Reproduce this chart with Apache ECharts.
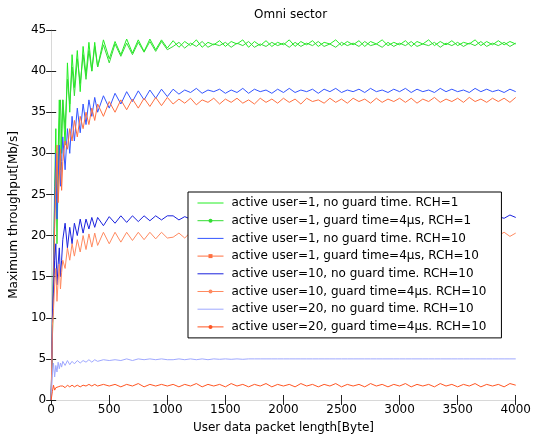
<!DOCTYPE html>
<html>
<head>
<meta charset="utf-8">
<script src="https://cdn.jsdelivr.net/npm/echarts@6/dist/echarts.min.js"></script>
<style>html,body{margin:0;padding:0;background:#fff}#c{width:534px;height:441px}</style>
</head>
<body>
<div id="c"></div>
<script>
const titleText = "Omni sector";
const xName = "User data packet length[Byte]";
const yName = "Maximum throughput[Mb/s]";
const seriesNames = [
  "active user=1, no guard time. RCH=1",
  "active user=1, guard time=4\u03bcs, RCH=1",
  "active user=1, no guard time. RCH=10",
  "active user=1, guard time=4\u03bcs, RCH=10",
  "active user=10, no guard time. RCH=10",
  "active user=10, guard time=4\u03bcs. RCH=10",
  "active user=20, no guard time. RCH=10",
  "active user=20, guard time=4\u03bcs. RCH=10"
];
const xs = [0,10,20,30,40,50,60,70,80,90,100,120,140,160,180,200,225,250,275,300,325,350,375,400,450,500,550,600,650,700,750,800,850,900,950,1000,
  1050,1100,1150,1200,1250,1300,1350,1400,1450,1500,1550,1600,1650,1700,1750,1800,1850,1900,1950,2000,
  2050,2100,2150,2200,2250,2300,2350,2400,2450,2500,2550,2600,2650,2700,2750,2800,2850,2900,2950,3000,
  3050,3100,3150,3200,3250,3300,3350,3400,3450,3500,3550,3600,3650,3700,3750,3800,3850,3900,3950,4000];

const green1 = [0,9,17,26,33,22,30,36.5,28,33,36.5,31,41,35,42,38,42.5,37.5,43,39.5,43.5,40,43.5,40.5,43.8,41.5,43.6,42,43.9,42.2,43.8,42.4,43.9,42.6,43.8,42.8,
  43.7,42.9,43.6,43.1,43.8,42.9,43.5,43.2,43.7,43.0, 43.6,43.3,43.8,42.9,43.6,43.1,43.7,43.0,43.5,43.2,
  43.8,43.0,43.6,43.2,43.7,43.0,43.5,43.3,43.8,43.1, 43.6,43.2,43.7,43.0,43.6,43.3,43.8,43.1,43.5,43.2,
  43.7,43.0,43.6,43.3,43.8,43.1,43.6,43.2,43.7,43.1, 43.5,43.3,43.8,43.1,43.6,43.2,43.7,43.2,43.6,43.3];
const green2 = [0,7,14,22,29,19,27,34,36.5,30,36.5,33,39,36,40.5,37,41.5,38.5,42,39,42.5,40,43,40.5,43.2,41,43.3,41.8,43.4,42,43.5,42.3,43.6,42.4,43.6,42.6,
  43.0,43.5,42.8,43.4,43.0,43.6,42.9,43.3,43.1,43.5, 42.9,43.4,43.1,43.6,42.9,43.3,43.0,43.5,43.1,43.4,
  42.9,43.5,43.0,43.4,43.1,43.6,43.0,43.3,42.9,43.5, 43.1,43.4,43.0,43.6,43.1,43.3,42.9,43.5,43.0,43.4,
  43.1,43.6,43.0,43.3,43.1,43.5,42.9,43.4,43.1,43.5, 43.0,43.4,43.1,43.6,43.0,43.4,43.1,43.5,43.0,43.4];
const blueA = [0,8,16,24,30,22,27,31,26,29,32,28,33,30,34.5,31.5,35.5,32.5,36,33.5,36.5,34.5,36.8,35,37,35.5,37.3,36,37.5,36.3,37.6,36.5,37.7,36.7,37.8,36.9,
  37.8,37.2,37.7,37.4,37.9,37.3,37.7,37.5,37.8,37.3, 37.7,37.4,37.9,37.3,37.8,37.5,37.7,37.3,37.8,37.4,
  37.9,37.4,37.7,37.5,37.8,37.3,37.8,37.5,37.9,37.4, 37.7,37.5,37.8,37.4,37.9,37.5,37.7,37.4,37.8,37.5,
  37.9,37.4,37.8,37.5,37.7,37.4,37.9,37.5,37.8,37.5, 37.7,37.4,37.9,37.5,37.8,37.5,37.7,37.4,37.8,37.5];
const orangeA = [0,7,14,21,26,31,24,27,30.5,25.5,29,31.5,30.5,33,31.5,34,32,34.5,33,35,33.5,35.5,34,36,34.5,36.3,35,36.5,35.3,36.6,35.5,36.7,35.7,36.8,35.8,36.8,
  36.0,36.6,36.1,36.7,35.9,36.5,36.2,36.7,36.0,36.6, 36.2,36.7,36.1,36.5,36.0,36.7,36.2,36.6,36.1,36.7,
  36.2,36.6,36.0,36.7,36.3,36.5,36.1,36.7,36.2,36.6, 36.1,36.7,36.3,36.6,36.1,36.7,36.2,36.6,36.3,36.7,
  36.2,36.7,36.1,36.6,36.3,36.8,36.2,36.6,36.3,36.7, 36.2,36.8,36.3,36.6,36.2,36.7,36.3,36.7,36.2,36.8];
const blueB = [0,10,13,17,19,14,16.5,18.5,15,17,19.5,21.5,18.5,21,19,21.5,20,22,20.3,22,20.8,22.2,21,22.2,21.2,22.3,21.5,22.4,21.6,22.4,21.7,22.4,21.8,22.4,21.9,22.4,
  22.4,21.9,22.3,22.0,22.4,21.8,22.3,22.1,22.5,21.9, 22.3,22.0,22.4,22.1,22.5,21.9,22.3,22.0,22.4,22.1,
  22.5,22.0,22.3,22.1,22.4,21.9,22.4,22.1,22.5,22.0, 22.3,22.1,22.4,22.0,22.5,22.1,22.3,22.0,22.4,22.2,
  22.5,22.0,22.4,22.1,22.3,22.1,22.5,22.0,22.4,22.2, 22.3,22.1,22.5,22.0,22.4,22.2,22.3,22.1,22.5,22.2];
const orangeB = [0,9,11,14,16,12,14.5,16.5,13.5,15.5,17,16,18.5,17,19,17.5,19.5,18,20,18.3,20.2,18.6,20.3,18.8,20.4,19,20.4,19.2,20.4,19.4,20.4,19.5,20.4,19.6,20.4,19.7,
  19.8,20.3,19.7,20.4,19.9,20.2,19.8,20.4,19.9,20.3, 19.7,20.3,20.0,20.4,19.8,20.2,19.9,20.4,19.8,20.3,
  20.0,20.4,19.8,20.3,19.9,20.4,20.0,20.2,19.8,20.4, 19.9,20.3,20.0,20.4,19.9,20.3,19.8,20.4,20.0,20.3,
  19.9,20.4,20.0,20.3,19.9,20.4,20.0,20.3,19.9,20.4, 20.0,20.3,19.9,20.4,20.0,20.3,20.0,20.4,19.9,20.3];
const lightBlue = [0,3,4.5,2.8,4.2,3.4,4.6,3.8,4.5,4.0,4.7,4.2,4.8,4.3,4.7,4.4,4.8,4.5,4.8,4.6,4.9,4.6,4.9,4.7,4.9,4.8,4.9,4.8,5.0,4.8,5.0,4.9,5.0,4.9,5.0,4.9,
  4.9,5.0,4.9,5.0,4.9,5.0,4.9,5.0,4.95,5.0, 4.95,5.0,4.95,5.0,5.0,5.0,5.0,5.0,5.0,5.0,
  5.0,5.0,5.0,5.0,5.0,5.0,5.0,5.0,5.0,5.0, 5.0,5.0,5.0,5.0,5.0,5.0,5.0,5.0,5.0,5.0,
  5.0,5.0,5.0,5.0,5.0,5.0,5.0,5.0,5.0,5.0, 5.0,5.0,5.0,5.0,5.0,5.0,5.0,5.0,5.0,5.0];
const orangeC = [0,1.0,1.8,1.2,1.5,1.3,1.6,1.4,1.7,1.5,1.7,1.5,1.8,1.6,1.8,1.6,1.8,1.6,1.8,1.7,1.9,1.7,1.9,1.7,1.9,1.7,1.9,1.6,1.9,1.7,2.0,1.6,1.9,1.7,1.9,1.7,
  1.9,1.6,1.9,1.7,2.0,1.6,1.9,1.7,1.9,1.6, 2.0,1.7,1.9,1.6,1.9,1.7,2.0,1.6,1.9,1.7,
  1.9,1.6,2.0,1.7,1.9,1.6,1.9,1.7,2.0,1.6, 1.9,1.7,1.9,1.6,2.0,1.7,1.9,1.6,1.9,1.7,
  2.0,1.6,1.9,1.7,1.9,1.6,2.0,1.7,1.9,1.6, 1.9,1.7,2.0,1.6,1.9,1.7,1.9,1.6,2.0,1.8];

const allValues = [green1, green2, blueA, orangeA, blueB, orangeB, lightBlue, orangeC];
const colors = ['#22ee22','#33dd33','#3355ff','#ff7040','#1a22dd','#ff8a60','#9fa8ff','#ff5522'];
const symbols = ['none','circle','none','rect','none','circle','none','circle'];
const hasMarker = [false,true,false,true,false,true,false,true];

const FONT = 'DejaVu Sans';
const chart = echarts.init(document.getElementById('c'), null, {renderer:'canvas'});

const series = allValues.map((vals, i) => ({
  name: seriesNames[i],
  type: 'line',
  data: xs.map((x, j) => [x, vals[j]]),
  symbol: symbols[i],
  symbolSize: 3,
  showSymbol: false,
  lineStyle: {color: colors[i], width: 1},
  itemStyle: {color: colors[i]},
  animation: false,
  silent: true
}));

const tickStyle = {show: true, inside: true, length: 5, lineStyle: {color: '#222', width: 1}};
const lineStyleAxis = {show: true, lineStyle: {color: '#d8d8d8', width: 1}};

chart.setOption({
  backgroundColor: '#fff',
  animation: false,
  title: {text: titleText, left: 249, top: 4, textStyle: {fontFamily: FONT, fontSize: 12, fontWeight: 'normal', color: '#000'}},
  grid: {left: 48, right: 14, top: 30, bottom: 41},
  legend: {
    orient: 'vertical', left: 188, top: 192,
    backgroundColor: '#fff', borderColor: '#000', borderWidth: 1, borderRadius: 0,
    padding: [4, 15, 4, 9],
    itemWidth: 26, itemHeight: 5, itemGap: 3.7,
    lineStyle: {width: 1},
    textStyle: {fontFamily: FONT, fontSize: 12, color: '#000', lineHeight: 14, padding: [0,0,0,3]},
    data: seriesNames.map((n, i) => ({name: n, itemStyle: hasMarker[i] ? {borderWidth: 0} : {opacity: 0}}))
  },
  xAxis: [{
    type: 'value', min: 0, max: 4000, interval: 500, position: 'bottom',
    name: xName, nameLocation: 'middle', nameGap: 22,
    nameTextStyle: {fontFamily: FONT, fontSize: 12, color: '#000'},
    axisLine: lineStyleAxis, axisTick: tickStyle,
    axisLabel: {fontFamily: FONT, fontSize: 12, color: '#000', margin: 4, formatter: v => String(v)},
    splitLine: {show: false}
  }, {
    type: 'value', min: 0, max: 4000, interval: 500, position: 'top',
    axisLine: lineStyleAxis, axisTick: tickStyle, axisLabel: {show: false}, splitLine: {show: false}
  }],
  yAxis: [{
    type: 'value', min: 0, max: 45, interval: 5, position: 'left',
    name: yName, nameLocation: 'middle', nameGap: 27,
    nameTextStyle: {fontFamily: FONT, fontSize: 12, color: '#000'},
    axisLine: lineStyleAxis, axisTick: tickStyle,
    axisLabel: {fontFamily: FONT, fontSize: 12, color: '#000', margin: 5},
    splitLine: {show: false}
  }, {
    type: 'value', min: 0, max: 45, interval: 5, position: 'right',
    axisLine: lineStyleAxis, axisTick: tickStyle, axisLabel: {show: false}, splitLine: {show: false}
  }],
  series: series
});
</script>
</body>
</html>
